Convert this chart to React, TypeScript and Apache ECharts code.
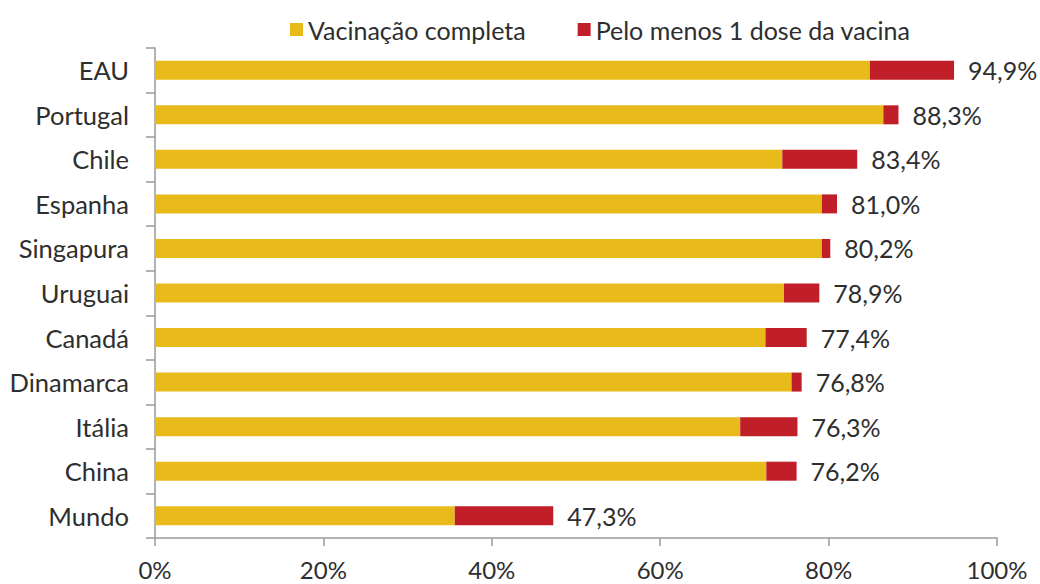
import React, { useEffect, useRef } from "react";
import * as echarts from "echarts";

const categories = ["EAU", "Portugal", "Chile", "Espanha", "Singapura", "Uruguai", "Canadá", "Dinamarca", "Itália", "China", "Mundo"];
const completa = [84.9, 86.5, 74.5, 79.2, 79.2, 74.7, 72.5, 75.6, 69.5, 72.6, 35.6];
const totals = [94.9, 88.3, 83.4, 81.0, 80.2, 78.9, 77.4, 76.8, 76.3, 76.2, 47.3];
const xTicks = [0, 20, 40, 60, 80, 100];

const parcial = totals.map((t, i) => Math.round((t - completa[i]) * 10) / 10);

const FONT = "Lato, 'Liberation Sans', sans-serif";
const TXT = "#2e2e2e";

export default function App() {
  const ref = useRef<HTMLDivElement>(null);
  useEffect(() => {
    if (!ref.current) return;
    const chart = echarts.init(ref.current, null, { renderer: "svg" });
    chart.setOption({
      animation: false,
      backgroundColor: "#ffffff",
      textStyle: { fontFamily: FONT },
      legend: {
        top: 12,
        left: 285,
        itemWidth: 13,
        itemHeight: 13,
        itemGap: 52,
        icon: "rect",
        textStyle: { fontFamily: FONT, fontSize: 25, color: TXT, padding: [0, 0, 0, 0] },
        data: ["Vacinação completa", "Pelo menos 1 dose da vacina"],
      },
      grid: { left: 155, right: 43, top: 48, bottom: 46, containLabel: false },
      xAxis: {
        type: "value",
        min: xTicks[0],
        max: xTicks[xTicks.length - 1],
        interval: 20,
        axisLine: { show: true, lineStyle: { color: "#9a9a9a", width: 1.5 } },
        axisTick: { show: true, length: 8, lineStyle: { color: "#9a9a9a", width: 1.5 } },
        splitLine: { show: false },
        axisLabel: { formatter: "{value}%", fontFamily: FONT, fontSize: 24, color: TXT, margin: 19 },
      },
      yAxis: {
        type: "category",
        inverse: true,
        data: categories,
        axisLine: { show: true, lineStyle: { color: "#9a9a9a", width: 1.5 } },
        axisTick: { show: true, length: 9, lineStyle: { color: "#9a9a9a", width: 1.5 } },
        axisLabel: { fontFamily: FONT, fontSize: 25.5, color: TXT, margin: 26 },
      },
      series: [
        {
          name: "Vacinação completa",
          type: "bar",
          stack: "v",
          data: completa,
          barWidth: 19,
          itemStyle: { color: "#E8BB1B" },
        },
        {
          name: "Pelo menos 1 dose da vacina",
          type: "bar",
          stack: "v",
          data: parcial,
          barWidth: 19,
          itemStyle: { color: "#C01F29" },
          label: {
            show: true,
            position: "right",
            distance: 14,
            fontFamily: FONT,
            fontSize: 25,
            color: TXT,
            formatter: (p: any) => totals[p.dataIndex].toFixed(1).replace(".", ",") + "%",
          },
        },
      ],
    });
    return () => chart.dispose();
  }, []);
  return <div ref={ref} style={{ position: "fixed", left: 0, top: 0, width: 1040, height: 584 }} />;
}
